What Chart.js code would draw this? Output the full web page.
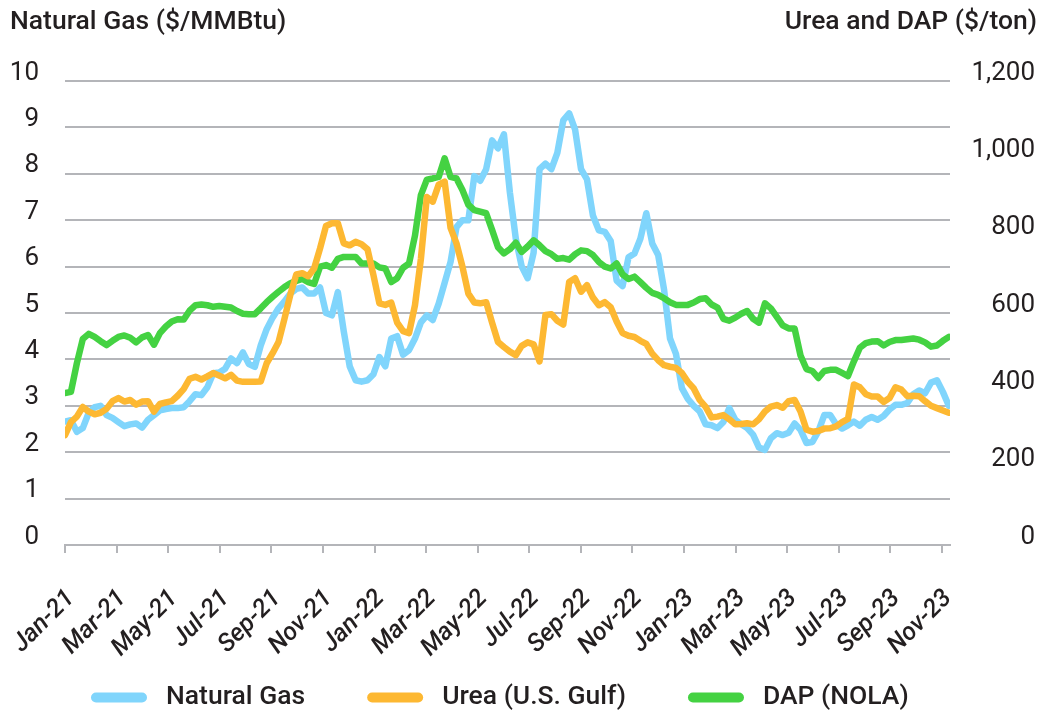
<!DOCTYPE html>
<html>
<head>
<meta charset="utf-8">
<title>Natural gas, urea and DAP prices</title>
<script src="https://cdn.jsdelivr.net/npm/chart.js@4.4.1/dist/chart.umd.min.js"></script>
<style>
  html, body { margin: 0; padding: 0; background: #fff; }
  #wrap { width: 1046px; height: 710px; position: relative; }
</style>
</head>
<body>
<div id="wrap"><canvas id="priceChart"></canvas></div>
<script>
// --- data (weekly, first week of Jan-21 to mid Nov-23)
const tickLabels = ['Jan-21','Mar-21','May-21','Jul-21','Sep-21','Nov-21','Jan-22','Mar-22','May-22',
  'Jul-22','Sep-22','Nov-22','Jan-23','Mar-23','May-23','Jul-23','Sep-23','Nov-23'];

// Henry Hub natural gas, $/MMBtu
const gasPrice = [
  2.66,2.69,2.44,2.52,2.85,2.97,3.00,2.80,2.74,2.65,2.56,2.60,2.62,2.53,2.70,2.80,2.90,2.93,2.95,2.95,
  2.97,3.10,3.25,3.23,3.40,3.70,3.72,3.80,4.02,3.92,4.15,3.90,3.84,4.30,4.65,4.90,5.10,5.25,5.42,5.52,
  5.55,5.42,5.42,5.55,5.00,4.95,5.45,4.60,3.85,3.55,3.52,3.55,3.68,4.05,3.85,4.45,4.50,4.10,4.20,4.45,
  4.80,4.95,4.85,5.20,5.65,6.10,6.85,7.00,7.00,7.95,7.85,8.10,8.72,8.55,8.85,7.60,6.60,6.00,5.75,6.30,
  8.10,8.22,8.10,8.45,9.15,9.30,8.95,8.10,7.88,7.10,6.78,6.75,6.55,5.70,5.58,6.20,6.28,6.60,7.15,6.50,
  6.25,5.50,4.45,4.12,3.38,3.15,3.00,2.88,2.60,2.58,2.52,2.65,2.95,2.70,2.60,2.52,2.38,2.10,2.05,2.30,
  2.41,2.37,2.42,2.62,2.48,2.20,2.22,2.45,2.80,2.80,2.60,2.51,2.58,2.66,2.57,2.70,2.76,2.70,2.78,2.92,
  3.02,3.02,3.06,3.25,3.33,3.27,3.50,3.55,3.30,3.00
];

// Urea, U.S. Gulf, $/ton
const ureaPrice = [
  284,318,332,357,345,338,342,352,372,380,371,375,363,371,372,345,365,369,372,386,
  403,430,435,428,436,445,438,431,440,425,422,422,422,423,470,496,525,585,648,700,
  703,695,715,767,825,832,832,780,775,784,778,765,698,625,621,627,575,553,548,620,
  740,900,888,932,940,820,780,720,650,627,625,628,575,525,512,500,491,515,524,519,
  475,595,597,580,570,680,690,655,672,640,620,628,615,578,548,541,538,528,520,495,
  478,465,461,458,445,422,405,375,357,330,332,336,325,312,313,315,312,325,345,358,
  362,355,372,375,345,298,293,295,301,302,307,318,326,415,408,390,384,384,370,380,
  408,402,385,386,385,372,360,354,348,342
];

// DAP, NOLA, $/ton
const dapPrice = [
  393,396,470,533,546,538,527,517,528,538,542,536,524,537,543,518,548,565,578,584,
  583,606,620,622,620,616,618,616,614,605,598,597,597,612,628,642,655,667,677,683,
  688,680,675,720,724,717,740,745,745,745,728,728,728,718,715,680,690,717,728,800,
  905,945,948,952,1000,952,948,918,880,866,862,858,815,770,754,765,782,758,772,788,
  775,760,752,740,742,738,752,762,760,750,732,720,715,728,700,688,694,680,665,652,
  647,638,628,621,621,621,627,636,638,622,614,585,580,588,598,605,585,575,625,612,
  590,568,560,560,490,455,450,432,450,453,453,445,437,475,510,522,526,527,516,525,
  530,530,532,534,531,524,513,516,528,538
];

const weekIndex = gasPrice.map((_, i) => i);
const WEEKS_PER_MONTH = 52.18 / 12;

// --- styling
const FONT = "Roboto, 'Liberation Sans', sans-serif";
const TEXT = '#231f20';
const GRID = '#b4b5b9';
const C_GAS = '#80d5fc';
const C_UREA = '#fdb832';
const C_DAP = '#44d242';

// axis titles sit horizontally above both y axes
const axisTitles = {
  id: 'axisTitles',
  afterDraw(chart) {
    const ctx = chart.ctx;
    ctx.save();
    ctx.fillStyle = TEXT;
    ctx.font = `500 26.5px ${FONT}`;
    ctx.textBaseline = 'middle';
    ctx.textAlign = 'left';
    ctx.fillText('Natural Gas ($/MMBtu)', 10, 22);
    ctx.textAlign = 'right';
    ctx.fillText('Urea and DAP ($/ton)', 1037, 22);
    ctx.restore();
  }
};

// legend drawn by hand: long rounded swatches, wide gaps
const bottomLegend = {
  id: 'bottomLegend',
  afterDraw(chart) {
    const ctx = chart.ctx;
    const y = 697;
    let x = 91;
    ctx.save();
    ctx.font = `500 26.5px ${FONT}`;
    ctx.textBaseline = 'middle';
    ctx.textAlign = 'left';
    chart.data.datasets.forEach(ds => {
      ctx.fillStyle = ds.borderColor;
      ctx.beginPath();
      ctx.roundRect(x, y - 4.5, 56, 10, 5);
      ctx.fill();
      x += 56 + 19;
      ctx.fillStyle = TEXT;
      ctx.fillText(ds.label, x, y);
      x += ctx.measureText(ds.label).width + 62;
    });
    ctx.restore();
  }
};

const noPadding = () => ({ left: 0, top: 0, right: 0, bottom: 0 });

function lineSet(label, data, color, yAxis, order) {
  return {
    label, data, yAxisID: yAxis, order,
    borderColor: color, backgroundColor: color,
    borderWidth: 6.5, pointRadius: 0, tension: 0,
    borderJoinStyle: 'round', borderCapStyle: 'round'
  };
}

new Chart(document.getElementById('priceChart'), {
  type: 'line',
  data: {
    labels: weekIndex,
    datasets: [
      lineSet('Natural Gas', gasPrice, C_GAS, 'yGas', 3),
      lineSet('Urea (U.S. Gulf)', ureaPrice, C_UREA, 'yTon', 1),
      lineSet('DAP (NOLA)', dapPrice, C_DAP, 'yTon', 2)
    ]
  },
  options: {
    responsive: true,
    maintainAspectRatio: false,
    animation: false,
    layout: { padding: { top: 81, left: 10, right: 11, bottom: 50 } },
    plugins: {
      tooltip: { enabled: false },
      legend: { display: false }
    },
    scales: {
      x: {
        type: 'linear',
        min: 0, max: 149.2,
        afterBuildTicks: axis => {
          axis.ticks = tickLabels.map((_, k) => ({ value: k * 2 * WEEKS_PER_MONTH }));
        },
        afterFit: axis => {
          axis.paddingLeft = 0; axis.paddingRight = 0;
          axis.getPadding = noPadding;
          axis.height = 115;
        },
        grid: { drawOnChartArea: false, drawTicks: true, tickLength: 8, color: GRID, lineWidth: 2 },
        border: { display: true, color: GRID, width: 2 },
        ticks: {
          autoSkip: false, minRotation: 45, maxRotation: 45, padding: 31, labelOffset: 6,
          color: TEXT,
          font: { family: FONT, size: 25, style: 'italic', weight: 500 },
          callback: (v, i) => tickLabels[i]
        }
      },
      yGas: {
        position: 'left',
        min: 0, max: 10,
        afterFit: axis => { axis.width = 55; },
        grid: { color: GRID, lineWidth: 2, drawTicks: false },
        border: { display: false },
        ticks: {
          stepSize: 1, padding: 26, labelOffset: -8,
          color: TEXT, font: { family: FONT, size: 26 }
        }
      },
      yTon: {
        position: 'right',
        min: 0, max: 1200,
        afterFit: axis => { axis.width = 85; },
        grid: { drawOnChartArea: false, drawTicks: false },
        border: { display: false },
        ticks: {
          stepSize: 200, padding: 21, labelOffset: -8, crossAlign: 'far',
          color: TEXT, font: { family: FONT, size: 26 },
          callback: v => v.toLocaleString('en-US')
        }
      }
    }
  },
  plugins: [axisTitles, bottomLegend]
});
</script>
</body>
</html>
